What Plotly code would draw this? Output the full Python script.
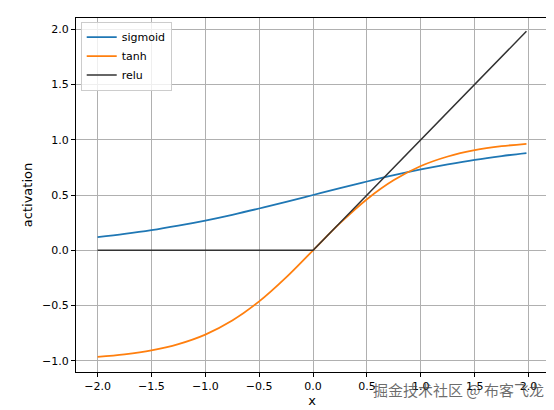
import plotly.graph_objects as go

x = [-2, -1.75, -1.5, -1.25, -1, -0.75, -0.5, -0.25, 0, 0.25, 0.5, 0.75, 1, 1.25, 1.5, 1.75, 1.98]
sigmoid = [0.119, 0.148, 0.182, 0.223, 0.269, 0.321, 0.378, 0.438, 0.5, 0.562, 0.622, 0.679, 0.731, 0.777, 0.818, 0.852, 0.879]
tanh = [-0.964, -0.941, -0.905, -0.848, -0.762, -0.635, -0.462, -0.245, 0, 0.245, 0.462, 0.635, 0.762, 0.848, 0.905, 0.941, 0.963]
relu = [0, 0, 0, 0, 0, 0, 0, 0, 0, 0.25, 0.5, 0.75, 1, 1.25, 1.5, 1.75, 1.98]

fig = go.Figure()
fig.add_trace(go.Scatter(x=x, y=sigmoid, name="sigmoid", mode="lines", line=dict(color="#1f77b4", width=1.8, shape="spline")))
fig.add_trace(go.Scatter(x=x, y=tanh, name="tanh", mode="lines", line=dict(color="#ff7f0e", width=1.8, shape="spline")))
fig.add_trace(go.Scatter(x=x, y=relu, name="relu", mode="lines", line=dict(color="#333333", width=1.5)))

ax = dict(showline=True, mirror=True, linecolor="black", linewidth=1, showgrid=True, gridcolor="#b0b0b0",
          zeroline=False, ticks="outside", ticklen=4, tickcolor="black", dtick=0.5, tickformat=".1f")
fig.update_layout(
    width=554, height=410, margin=dict(l=68, r=14, t=10, b=46),
    paper_bgcolor="white", plot_bgcolor="white",
    font=dict(family="DejaVu Sans", size=11, color="black"),
    xaxis=dict(ax, range=[-2.2, 2.18], title=dict(text="x", standoff=2)),
    yaxis=dict(ax, range=[-1.1, 2.1], title=dict(text="activation", standoff=6)),
    legend=dict(x=0.01, y=0.99, xanchor="left", yanchor="top", bordercolor="#cccccc", borderwidth=1,
                bgcolor="rgba(255,255,255,0.8)"),
)
fig.add_annotation(text="掘金技术社区 @ 布客飞龙", x=0.995, y=-0.05, xref="paper", yref="paper",
                   xanchor="right", yanchor="middle", showarrow=False,
                   font=dict(family="Noto Sans CJK SC", size=15, color="rgba(60,60,60,0.75)"))
fig.write_html("out.html")
